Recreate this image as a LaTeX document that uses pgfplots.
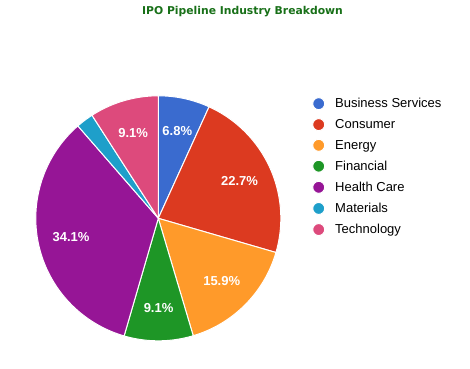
\documentclass[border=0pt]{standalone}
\usepackage{pgfplots}
\pgfplotsset{compat=1.18}
\usepackage{fontspec}
\setmainfont{Liberation Sans}
\newfontfamily\titlefont{DejaVu Sans}
\definecolor{cBS}{HTML}{3A6BCF}
\definecolor{cCO}{HTML}{DC3A20}
\definecolor{cEN}{HTML}{FF9A2A}
\definecolor{cFI}{HTML}{1E9626}
\definecolor{cHC}{HTML}{961596}
\definecolor{cMA}{HTML}{1E9FCA}
\definecolor{cTE}{HTML}{DD4A7C}
\definecolor{titlegreen}{RGB}{24,112,24}
\tikzset{pielabel/.style={text=white,font=\bfseries\fontsize{13}{13}\selectfont,inner sep=0pt}}
\def\cx{158.3}
\def\cy{149.7}
\def\rr{122.5}
\def\rl{89.4}
\gdef\cum{0}
% #1 percentage, #2 colour, #3 legend name, #4 show label (1/0)
\newcommand\slice[4]{%
  \pgfmathsetmacro\aS{90-3.6*\cum}%
  \pgfmathsetmacro\aE{90-3.6*(\cum+#1)}%
  \pgfmathsetmacro\aM{(\aS+\aE)/2}%
  \pgfmathsetmacro\lx{\cx+\rl*cos(\aM)}%
  \pgfmathsetmacro\ly{\cy+\rl*sin(\aM)}%
  \pgfmathsetmacro\newcum{\cum+#1}%
  \xdef\cum{\newcum}%
  \edef\temp{\noexpand\addplot[fill=#2, draw=white, line width=1pt, domain=\aE:\aS, samples=90]
      ({\cx+\rr*cos(x)},{\cy+\rr*sin(x)}) -- (axis cs:\cx,\cy) -- cycle;
    \noexpand\addlegendentry{#3}
    \ifnum#4=1 \noexpand\node[pielabel] at (axis cs:\lx,\ly) {#1\noexpand\%};\fi}%
  \temp}
\begin{document}
\begin{tikzpicture}
\useasboundingbox (0,0) rectangle (470pt,368pt);
\begin{axis}[at={(0,0)},anchor=south west,scale only axis,
  width=470pt,height=368pt,xmin=0,xmax=470,ymin=0,ymax=368,
  axis lines=none,clip=false,
  legend image code/.code={\fill[#1] (6pt,0) circle (6pt);},
  legend style={at={(axis cs:312,272)},anchor=north west,draw=none,fill=none,
    font=\fontsize{13}{15}\selectfont,inner sep=0pt,row sep=6.2pt,
    cells={anchor=west},
    /tikz/every odd column/.append style={column sep=8pt}},
]
\slice{6.8}{cBS}{Business Services}{1}
\slice{22.7}{cCO}{Consumer}{1}
\slice{15.9}{cEN}{Energy}{1}
\slice{9.1}{cFI}{Financial}{1}
\slice{34.1}{cHC}{Health Care}{1}
\slice{2.3}{cMA}{Materials}{0}
\slice{9.1}{cTE}{Technology}{1}
\node[font=\titlefont\bfseries\fontsize{10.8}{13}\selectfont,text=titlegreen,inner sep=0pt] at (axis cs:242.5,356) {IPO Pipeline Industry Breakdown};
\end{axis}
\end{tikzpicture}
\end{document}
